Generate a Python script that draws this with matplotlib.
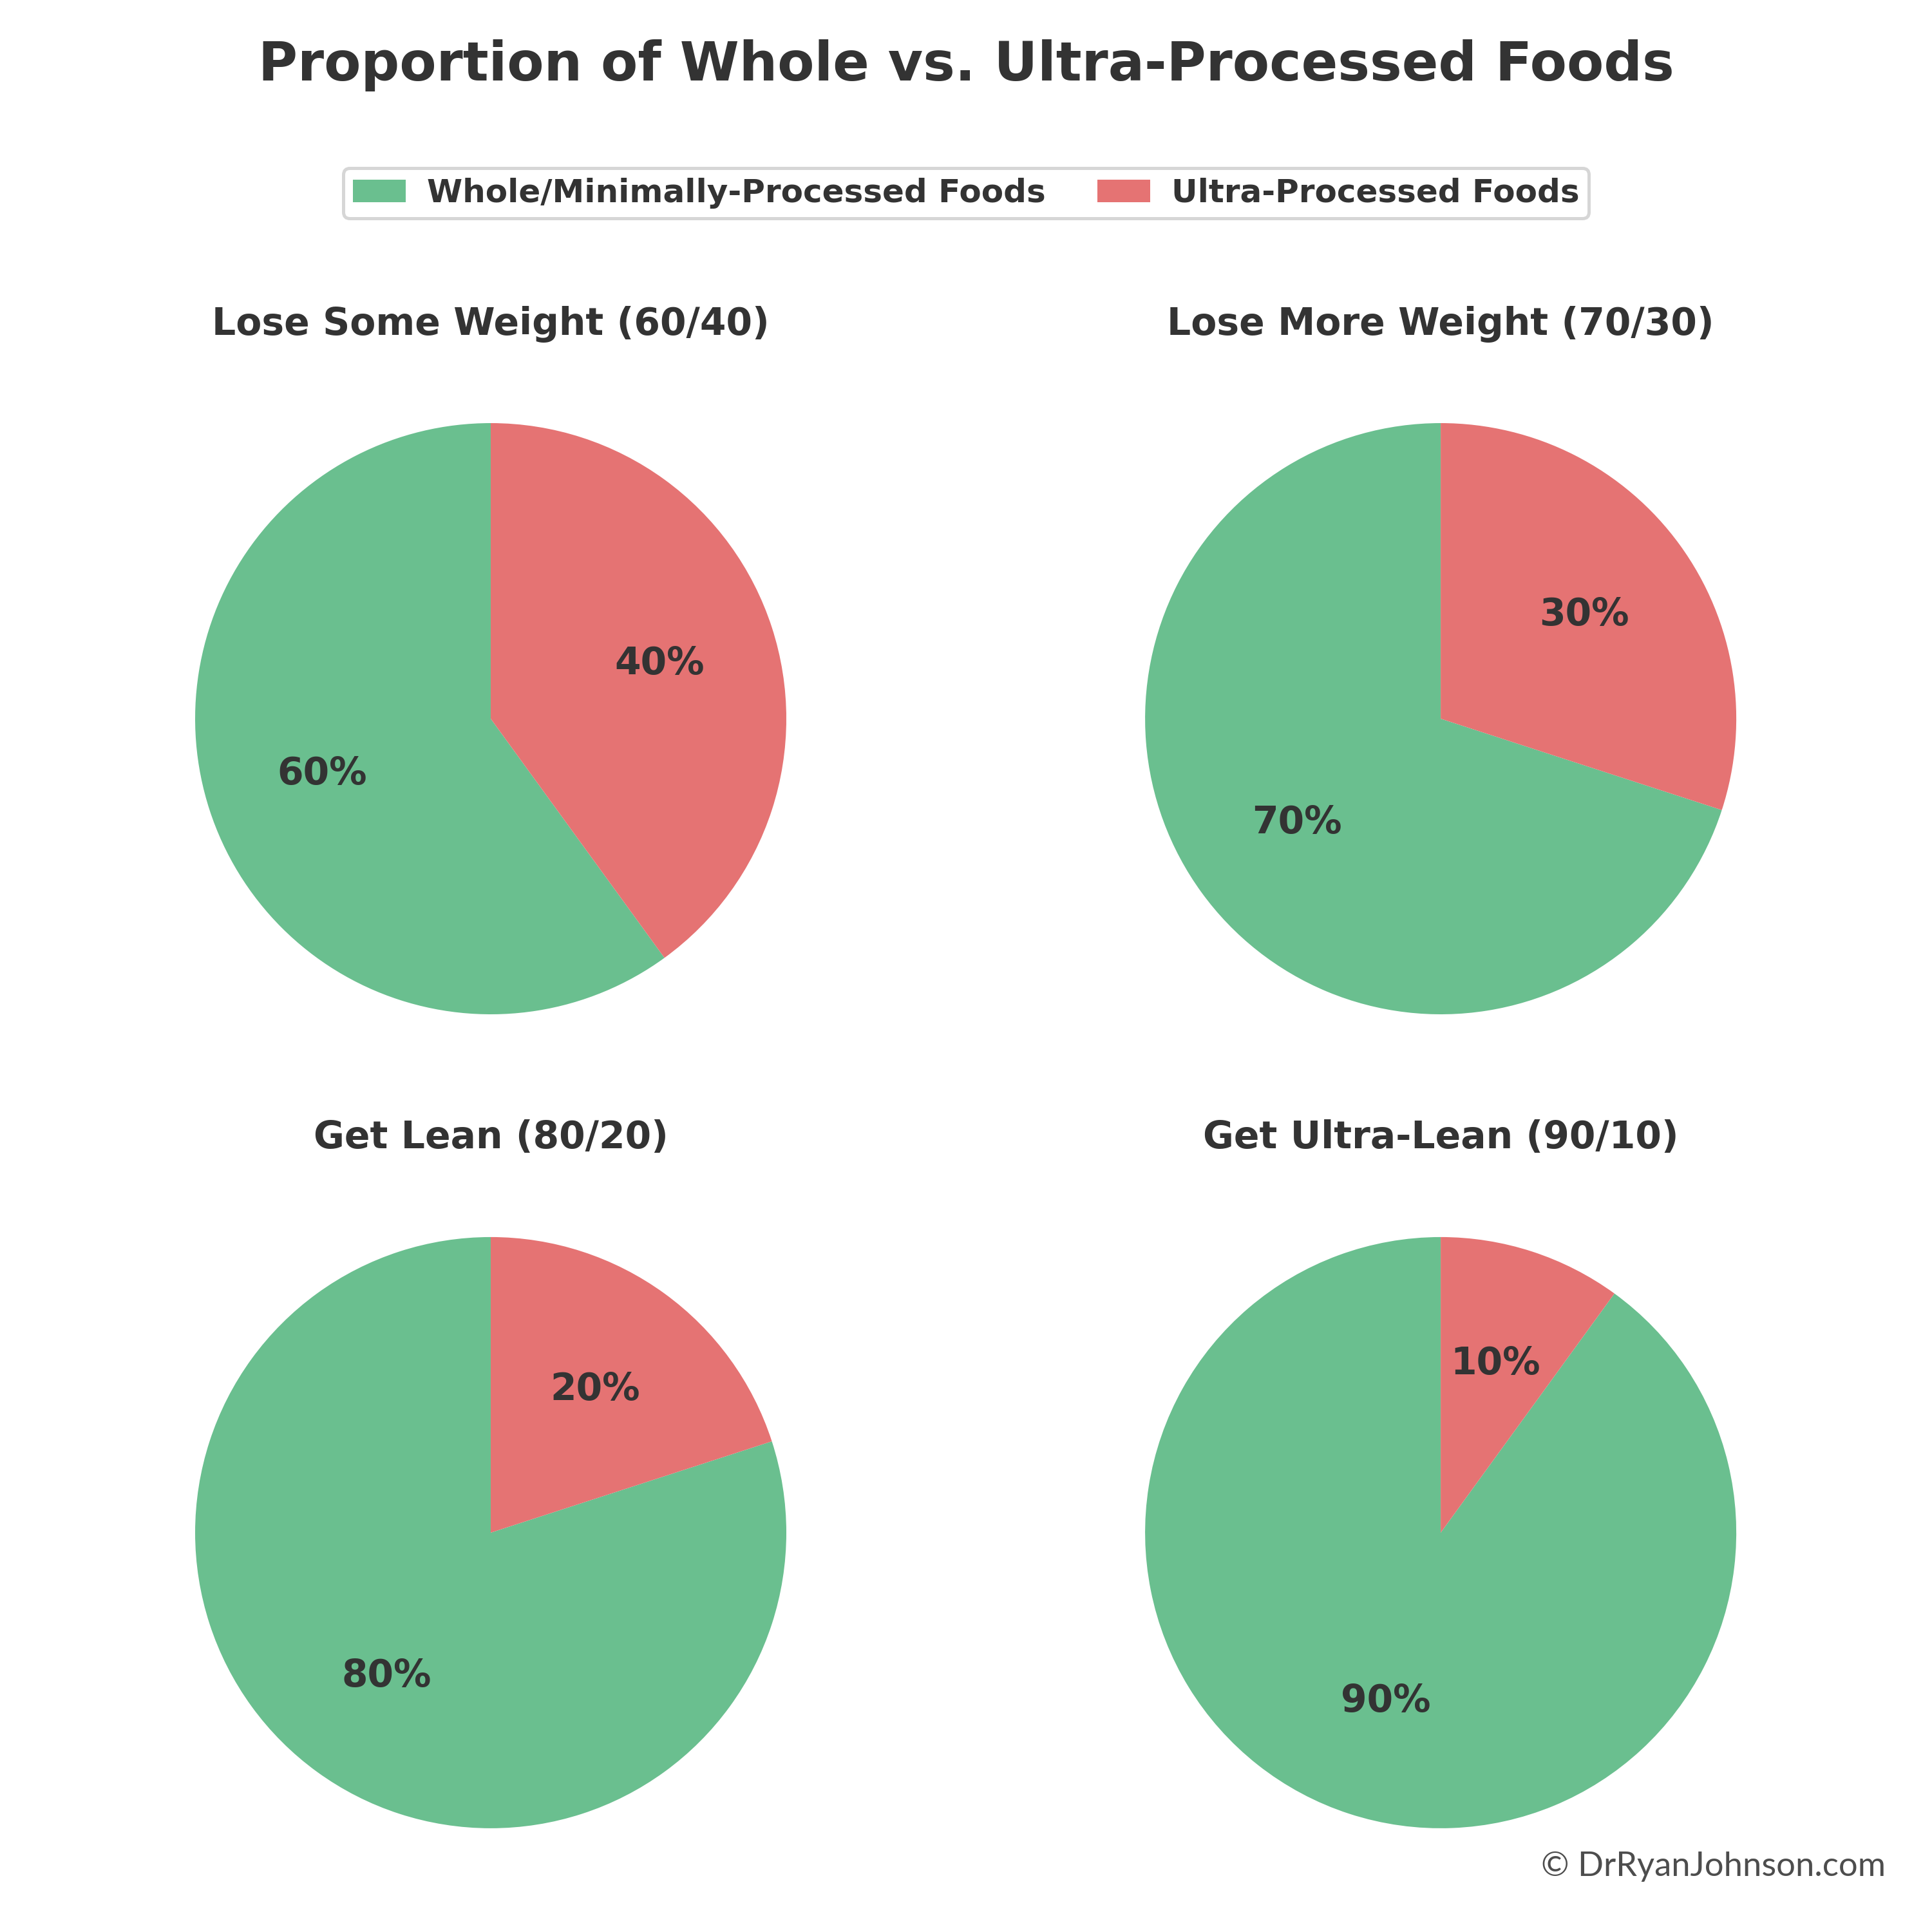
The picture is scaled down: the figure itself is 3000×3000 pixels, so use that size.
import matplotlib
matplotlib.use("Agg")
import matplotlib.pyplot as plt
from matplotlib.patches import Patch

plt.rcParams['font.family'] = ['DejaVu Sans']

titles = ["Lose Some Weight (60/40)", "Lose More Weight (70/30)",
          "Get Lean (80/20)", "Get Ultra-Lean (90/10)"]
whole = [60, 70, 80, 90]
ultra = [40, 30, 20, 10]
labels = ["Whole/Minimally-Processed Foods", "Ultra-Processed Foods"]
colors = ["#6abf8f", "#e57373"]
text_color = "#333333"

fig = plt.figure(figsize=(10, 10), dpi=300)
fig.patch.set_facecolor("white")

r = 0.153
centers = [(0.254, 0.628), (0.7457, 0.628), (0.254, 0.2067), (0.7457, 0.2067)]

for i, (cx, cy) in enumerate(centers):
    ax = fig.add_axes([cx - r, cy - r, 2 * r, 2 * r])
    wedges, texts, autotexts = ax.pie(
        [whole[i], ultra[i]], colors=colors, startangle=90,
        autopct='%1.0f%%', pctdistance=0.6,
        textprops=dict(color=text_color, fontsize=14, fontweight='bold'))
    ax.set_xlim(-1, 1)
    ax.set_ylim(-1, 1)
    ax.set_aspect('equal')
    ax.axis('off')
    ax.set_title(titles[i], fontsize=14, fontweight='bold', color=text_color, pad=33)

fig.suptitle("Proportion of Whole vs. Ultra-Processed Foods", fontsize=20,
             fontweight='bold', color=text_color, y=0.966, va='center')

handles = [Patch(facecolor=c, label=l) for c, l in zip(colors, labels)]
leg = fig.legend(handles=handles, loc='center', bbox_to_anchor=(0.5, 0.9), ncol=2,
                 frameon=True, prop=dict(weight='bold', size=12), labelcolor=text_color,
                 edgecolor='#cccccc', fancybox=True, columnspacing=1.6,
                 handlelength=1.65, handletextpad=0.65, borderpad=0.3)
leg.get_frame().set_linewidth(1.2)

fig.text(0.976, 0.034, "© DrRyanJohnson.com", ha='right', va='center',
         fontsize=12.6, color='#4d4d4d', family=['Lato', 'DejaVu Sans'])

fig.savefig("out.png", dpi=300, facecolor='white')
